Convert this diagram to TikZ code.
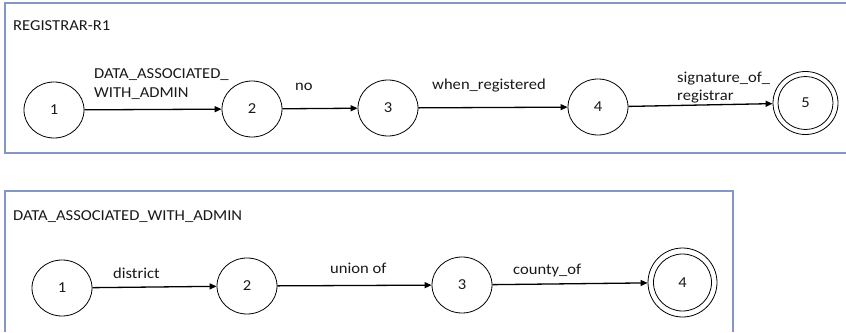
\documentclass[tikz,border=0pt]{standalone}
\usepackage{fontspec}
\setmainfont{Carlito}[FakeStretch=1.09]
\usetikzlibrary{shapes.geometric,arrows.meta}
\definecolor{boxblue}{RGB}{132,151,196}
\begin{document}
\begin{tikzpicture}[x=1pt,y=-1pt,
  txt/.style={font=\fontsize{15.2}{19}\selectfont,text=black!90},
  state/.style={ellipse,draw,line width=0.8pt,minimum width=60pt,minimum height=56pt,inner sep=0pt,txt},
  outerst/.style={ellipse,draw,line width=0.8pt,inner sep=0pt},
  lbl/.style={txt,inner sep=0pt,anchor=base west,align=left},
  framebox/.style={draw=boxblue,line width=1.2pt},
  trans/.style={draw,line width=1.3pt,-{Triangle[length=7pt,width=6pt]}}
]
\useasboundingbox (0,0) rectangle (846,332);
% frames
\draw[framebox] (846,3) -- (5,3) -- (5,153) -- (846,153);
\draw[framebox] (5,332) -- (5,191) -- (733,191) -- (733,332);
% titles
\node[lbl] (t1) at (13,30) {REGISTRAR-R1};
\node[lbl] (t2) at (13,220) {DATA\_ASSOCIATED\_WITH\_ADMIN};
% top automaton
\node[state] (a1) at (54,110) {1};
\node[state] (a2) at (252,109) {2};
\node[state] (a3) at (388,108) {3};
\node[state] (a4) at (598,107) {4};
\node[outerst,minimum width=65pt,minimum height=63pt] (a5o) at (805.5,103) {};
\node[state,minimum width=55pt,minimum height=53pt] (a5) at (805.5,103) {5};
\path[trans] (a1) -- (a2);
\path[trans] (a2) -- (a3);
\path[trans] (a3) -- (a4);
\path[trans] (a4) -- (a5o);
\node[lbl] (l1) at (94,97) {DATA\_ASSOCIATED\_\\WITH\_ADMIN};
\node[lbl] (l2) at (295,90) {no};
\node[lbl] (l3) at (432,89) {when\_registered};
\node[lbl,font=\fontsize{15.2}{17.5}\selectfont] (l4) at (677,100) {signature\_of\_\\registrar};
% bottom automaton
\node[state] (b1) at (62,288) {1};
\node[state] (b2) at (247,286) {2};
\node[state] (b3) at (462,285) {3};
\node[outerst,minimum width=69pt,minimum height=69pt] (b4o) at (682.5,282.5) {};
\node[state,minimum width=58pt,minimum height=57pt] (b4) at (682.5,282.5) {4};
\path[trans] (b1) -- (b2);
\path[trans] (b2) -- (b3);
\path[trans] (b3) -- (b4o);
\node[lbl] (m1) at (113,278) {district};
\node[lbl] (m2) at (330,273) {union of};
\node[lbl] (m3) at (513,274) {county\_of};
\end{tikzpicture}
\end{document}
